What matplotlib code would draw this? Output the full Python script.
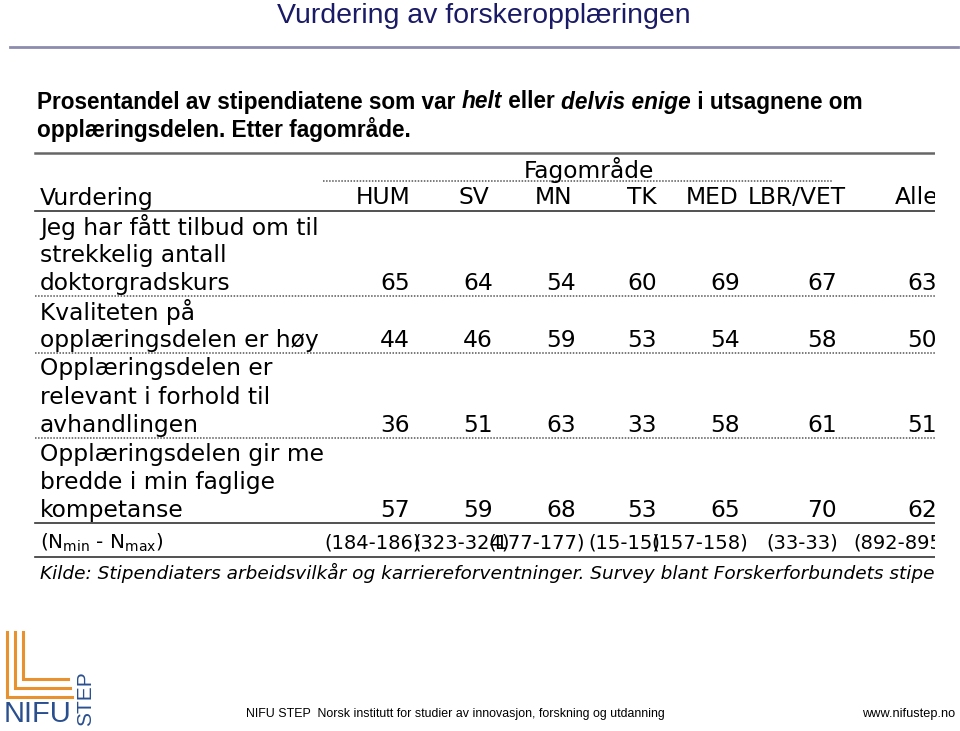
import matplotlib.pyplot as plt

# table data
fields = ['HUM', 'SV', 'MN', 'TK', 'MED', 'LBR/VET', 'Alle']
statements = [
    ['Jeg har fått tilbud om til', 'strekkelig antall', 'doktorgradskurs'],
    ['Kvaliteten på', 'opplæringsdelen er høy'],
    ['Opplæringsdelen er', 'relevant i forhold til', 'avhandlingen'],
    ['Opplæringsdelen gir me', 'bredde i min faglige', 'kompetanse'],
]
values = [
    [65, 64, 54, 60, 69, 67, 63],
    [44, 46, 59, 53, 54, 58, 50],
    [36, 51, 63, 33, 58, 61, 51],
    [57, 59, 68, 53, 65, 70, 62],
]
n_ranges = ['(184-186)', '(323-324)', '(177-177)', '(15-15)',
            '(157-158)', '(33-33)', '(892-895)']

title = 'Vurdering av forskeropplæringen'
subtitle = [('Prosentandel av stipendiatene som var ', 'normal'),
            ('helt', 'italic'), (' eller ', 'normal'),
            ('delvis enige', 'italic'), (' i utsagnene om', 'normal')]
subtitle2 = 'opplæringsdelen. Etter fagområde.'
source = ('Kilde: Stipendiaters arbeidsvilkår og karriereforventninger. '
          'Survey blant Forskerforbundets stipendiater')

# column right edges (pixels)
head_x = [410, 489, 572, 657, 738, 846, 938]
val_x = [410, 493, 576, 657, 740, 837, 937]
n_x = [421, 510, 585, 660, 748, 838, 950]

W, H = 960, 731
fig = plt.figure(figsize=(W / 100, H / 100), dpi=100)
fig.patch.set_facecolor('white')

# full page axes in pixel coordinates
ax = fig.add_axes([0, 0, 1, 1])
ax.set_xlim(0, W)
ax.set_ylim(H, 0)
ax.axis('off')

# table axes, clipped at the right edge like the pasted picture
tab = fig.add_axes([0, 0, 935 / W, 1])
tab.set_xlim(0, 935)
tab.set_ylim(H, 0)
tab.axis('off')

sans = 'Liberation Sans'
narrow = ['Liberation Sans Narrow', 'Liberation Sans']
navy = '#1a1a66'

ax.text(484, 16, title, fontsize=20.5, family=sans, color=navy,
        ha='center', va='center')
ax.plot([10, 958], [47, 47], color='#8c8cae', lw=2)

# mixed bold / bold-italic line, piece by piece
fig.canvas.draw()
r = fig.canvas.get_renderer()
x = 37
for s, st in subtitle:
    t = ax.text(x, 102, s, fontsize=16.3, family=sans, weight='bold',
                style=st, va='center')
    x += t.get_window_extent(renderer=r).width
ax.text(37, 129, subtitle2, fontsize=16.3, family=sans, weight='bold',
        va='center')

# table
tf = 'DejaVu Sans'
fs = 16.8
dot_col = '#555555'
tab.plot([35, 935], [153, 153], color='#666666', lw=1.8)
tab.text(589, 170, 'Fagområde', fontsize=fs, family=tf, ha='center',
         va='center', clip_on=True)
tab.plot([323, 832], [181, 181], color=dot_col, lw=1.1, ls=(0, (1, 1)))
tab.text(40, 198, 'Vurdering', fontsize=fs, family=tf, va='center',
         clip_on=True)
for f, xh in zip(fields, head_x):
    tab.text(xh, 198, f, fontsize=fs, family=tf, ha='right', va='center',
             clip_on=True)
tab.plot([35, 935], [211, 211], color='#333333', lw=1.2)

pitch = 28.4
y = 227
for i, (lines, vals) in enumerate(zip(statements, values)):
    for ln in lines:
        tab.text(40, y, ln, fontsize=fs, family=tf, va='center',
                 clip_on=True)
        y += pitch
    ylast = y - pitch
    for v, xv in zip(vals, val_x):
        tab.text(xv, ylast, str(v), fontsize=fs, family=tf, ha='right',
                 va='center', clip_on=True)
    ysep = ylast + 12.5
    if i < len(statements) - 1:
        tab.plot([35, 935], [ysep, ysep], color=dot_col, lw=1.1,
                 ls=(0, (1, 1)))
    else:
        tab.plot([35, 935], [ysep, ysep], color='#333333', lw=1.2)

tab.text(40, 543, r'(N$_{\mathregular{min}}$ - N$_{\mathregular{max}}$)',
         fontsize=14.3, family=tf, va='center', clip_on=True)
for nr, xn in zip(n_ranges, n_x):
    tab.text(xn, 543, nr, fontsize=14, family=tf, ha='right', va='center',
             clip_on=True)
tab.plot([35, 935], [557, 557], color='#333333', lw=1.2)
tab.text(40, 573, source, fontsize=13.3, family=tf, style='italic',
         va='center', clip_on=True)

# logo
orange = '#e8912f'
blue = '#2a4f8f'
for xv, yb, xe in [(7, 697, 72), (15, 688, 70), (23, 679, 68)]:
    ax.plot([xv, xv, xe], [632, yb, yb], color=orange, lw=2.2,
            solid_joinstyle='miter')
ax.text(4, 714, 'NIFU', fontsize=21, family=sans, color=blue,
        va='center', ha='left')
ax.text(86, 699, 'STEP', fontsize=15, family=sans, color=blue,
        va='center', ha='center', rotation=90)

ax.text(246, 714, 'NIFU STEP  Norsk institutt for studier av innovasjon, '
        'forskning og utdanning', fontsize=8.9, family=narrow, va='center')
ax.text(955, 714, 'www.nifustep.no', fontsize=9.2, family=narrow,
        va='center', ha='right')

fig.savefig('out.png', dpi=100)
